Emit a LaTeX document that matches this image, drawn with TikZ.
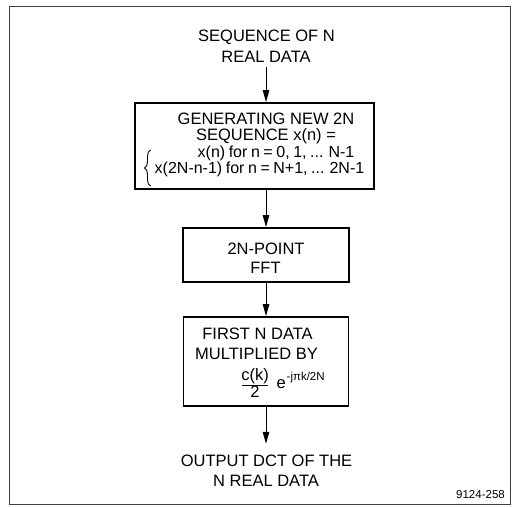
\documentclass[tikz,border=0pt]{standalone}
\usepackage{fontspec}
\setmainfont{Liberation Sans}
\newfontfamily\tightsans[WordSpace=0.8]{Liberation Sans}
\usetikzlibrary{arrows.meta,decorations.pathreplacing}
\tikzset{
  txt/.style={font=\fontsize{16.5}{19}\selectfont, inner sep=0pt, anchor=base},
  tighttxt/.style={font=\tightsans\fontsize{16}{19}\selectfont, inner sep=0pt, anchor=base},
  smalltxt/.style={font=\fontsize{11.5}{13}\selectfont, inner sep=0pt},
  boxst/.style={draw, line width=1.8pt, inner sep=0pt},
  arr/.style={-{Triangle[length=12pt,width=6.5pt]}, line width=1pt},
  framest/.style={draw=black!75, line width=1pt},
}
\begin{document}
\begin{tikzpicture}[x=1pt,y=-1pt]
\useasboundingbox (0,0) rectangle (516,506);
% outer frame
\draw[framest] (9,6) rectangle (510,504);
% source text
\node[txt] (s1) at (266.5,41) {SEQUENCE OF N};
\node[txt] (s2) at (266,62) {REAL DATA};
% box 1
\node[boxst, minimum width=239pt, minimum height=86pt] (b1) at (254.5,146) {};
\node[txt] (g1) at (266,124) {GENERATING NEW 2N};
\node[txt] (g2) at (266,140.5) {SEQUENCE x(n) =};
\node[tighttxt] (g3) at (276,157) {x(n) for n = 0, 1, ... N-1};
\node[tighttxt] (g4) at (259.5,173.5) {x(2N-n-1) for n = N+1, ... 2N-1};
\draw[line width=0.9pt, decorate, decoration={brace, amplitude=6pt}] (150.5,186) -- (150.5,150);
% box 2
\node[boxst, minimum width=166pt, minimum height=54pt] (b2) at (266,255) {};
\node[txt] (f1) at (266,254) {2N-POINT};
\node[txt] (f2) at (265.5,273) {FFT};
% box 3
\node[boxst, minimum width=165pt, minimum height=89pt] (b3) at (266,361.5) {};
\node[txt] (m1) at (257.5,339) {FIRST N DATA};
\node[txt] (m2) at (256.5,359) {MULTIPLIED BY};
\node[txt] (c1) at (255,380.5) {c(k)};
\node[txt] (c2) at (255,397.5) {2};
\draw[line width=0.9pt] (242,385.5) -- (268,385.5);
\node[txt, anchor=base west] (e1) at (276.5,388) {e};
\node[smalltxt, anchor=base west] (e2) at (286.5,380) {-jπk/2N};
% output text
\node[txt] (o1) at (266.5,466.5) {OUTPUT DCT OF THE};
\node[txt] (o2) at (266,486.5) {N REAL DATA};
% label
\node[smalltxt, anchor=base east] (lab) at (505,498) {9124-258};
% connectors
\draw[arr] ([yshift=-5pt]s2.base) -- (s2.base |- b1.north);
\draw[arr] (b1.south -| s2.base) -- (b2.north);
\draw[arr] (b2.south) -- (b3.north);
\draw[arr] (b3.south) -- ([yshift=11pt]b3.south |- o1.north);
\end{tikzpicture}
\end{document}
